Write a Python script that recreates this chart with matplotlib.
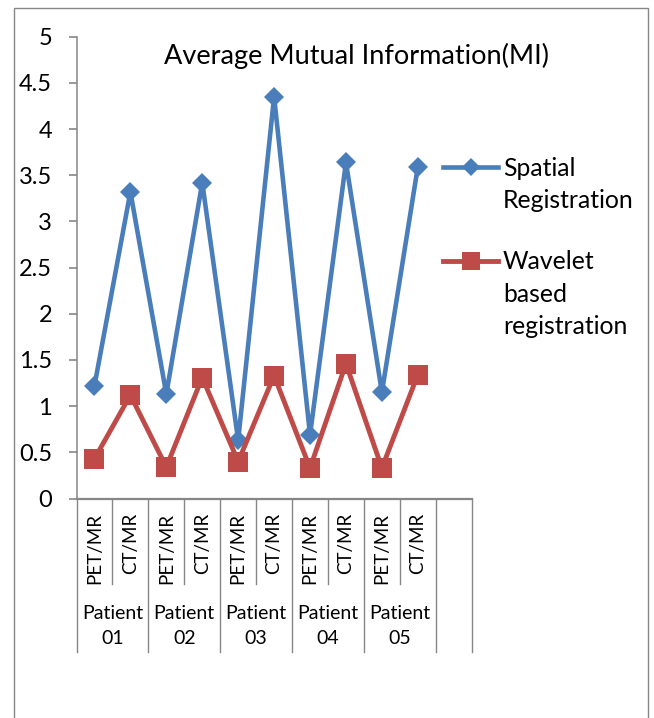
import matplotlib
matplotlib.use("Agg")
import matplotlib.pyplot as plt
import matplotlib.transforms as mtransforms
from matplotlib.lines import Line2D
from matplotlib.patches import Rectangle

plt.rcParams["font.family"] = ["Lato", "DejaVu Sans"]

# Data: average mutual information per patient / modality pair
modalities = ["PET/MR", "CT/MR"]
patients = ["01", "02", "03", "04", "05"]
spatial = [1.22, 3.32, 1.13, 3.42, 0.63, 4.35, 0.69, 3.64, 1.15, 3.59]
wavelet = [0.43, 1.12, 0.34, 1.31, 0.40, 1.33, 0.33, 1.46, 0.33, 1.34]
yticks = [0, 0.5, 1, 1.5, 2, 2.5, 3, 3.5, 4, 4.5, 5]

# Styling
BLUE = "#4A7EBB"
RED = "#BE4B48"
GRID = "#868686"
W, H = 654, 718

fig = plt.figure(figsize=(W / 100, H / 100), dpi=100, facecolor="white")


def fx(px):
    return px / W


def fy(py):
    return 1 - py / H


# plot area in pixel coords of the reference
x0, x1 = 76.5, 471.7
y0, y1 = 36.7, 498.5
ax = fig.add_axes([fx(x0), fy(y1), fx(x1) - fx(x0), fy(y0) - fy(y1)])

n_cat = len(patients) * len(modalities) + 1  # one trailing empty slot
xs = list(range(len(spatial)))

ax.plot(xs, spatial, color=BLUE, lw=3.3, marker="D", ms=10.3,
        mec=BLUE, mfc=BLUE, mew=0, clip_on=False, zorder=3)
ax.plot(xs, wavelet, color=RED, lw=3.5, marker="s", ms=14,
        mec=RED, mfc=RED, mew=0, clip_on=False, zorder=3)

ax.set_xlim(-0.5, n_cat - 0.5)
ax.set_ylim(0, 5)
ax.set_yticks(yticks)
ax.set_yticklabels([f"{t:g}" for t in yticks], fontsize=17)
ax.set_xticks([])
ax.tick_params(axis="y", direction="out", length=6, width=1.2,
               color=GRID, pad=11.5)
for side in ["top", "right"]:
    ax.spines[side].set_visible(False)
ax.spines["left"].set_color(GRID)
ax.spines["left"].set_linewidth(1.1)
ax.spines["bottom"].set_color(GRID)
ax.spines["bottom"].set_linewidth(1.6)

# Multi-level category axis
trans = mtransforms.blended_transform_factory(ax.transData, fig.transFigure)
for b in range(n_cat + 1):
    xb = b - 0.5
    short = (b % 2 == 1) and b < n_cat - 1
    bottom = 584 if short else 652
    ax.add_line(Line2D([xb, xb], [fy(y1), fy(bottom)], transform=trans,
                       color=GRID, lw=1.0, clip_on=False))

for i in xs:
    ax.text(i, fy(513), modalities[i % 2], transform=trans, rotation=90,
            ha="center", va="top", fontsize=13.5, color="black")

for p, num in enumerate(patients):
    cx = 2 * p + 0.5
    ax.text(cx, fy(619.3), "Patient", transform=trans, ha="center",
            va="baseline", fontsize=14, color="black")
    ax.text(cx, fy(644), num, transform=trans, ha="center",
            va="baseline", fontsize=14, color="black")

# Title
fig.text(fx(357), fy(64), "Average Mutual Information(MI)", ha="center",
         va="baseline", fontsize=19.5, color="black")

# Legend, drawn by hand to match the Excel layout
fig.add_artist(Line2D([fx(443), fx(498)], [fy(167), fy(167)], color=BLUE,
                      lw=3.3))
fig.add_artist(Line2D([fx(470.5)], [fy(167)], color=BLUE, marker="D",
                      ms=9, mew=0, lw=0))
fig.add_artist(Line2D([fx(443), fx(498)], [fy(261), fy(261)], color=RED,
                      lw=3.5))
fig.add_artist(Line2D([fx(470.5)], [fy(261)], color=RED, marker="s",
                      ms=12.5, mew=0, lw=0))

legend_lines = [("Spatial", 175.7), ("Registration", 208.3),
                ("Wavelet", 269.3), ("based", 301.5), ("registration", 333.5)]
for txt, by in legend_lines:
    fig.text(fx(503), fy(by), txt, ha="left", va="baseline", fontsize=17.8,
             color="black")

# Chart border (bottom edge falls outside the crop)
fig.add_artist(Rectangle((fx(13.5), fy(H + 20)), fx(648) - fx(13.5),
                         fy(8.3) - fy(H + 20), transform=fig.transFigure,
                         fill=False, edgecolor=GRID, lw=1.0))

fig.savefig("out.png", dpi=100, facecolor="white")
